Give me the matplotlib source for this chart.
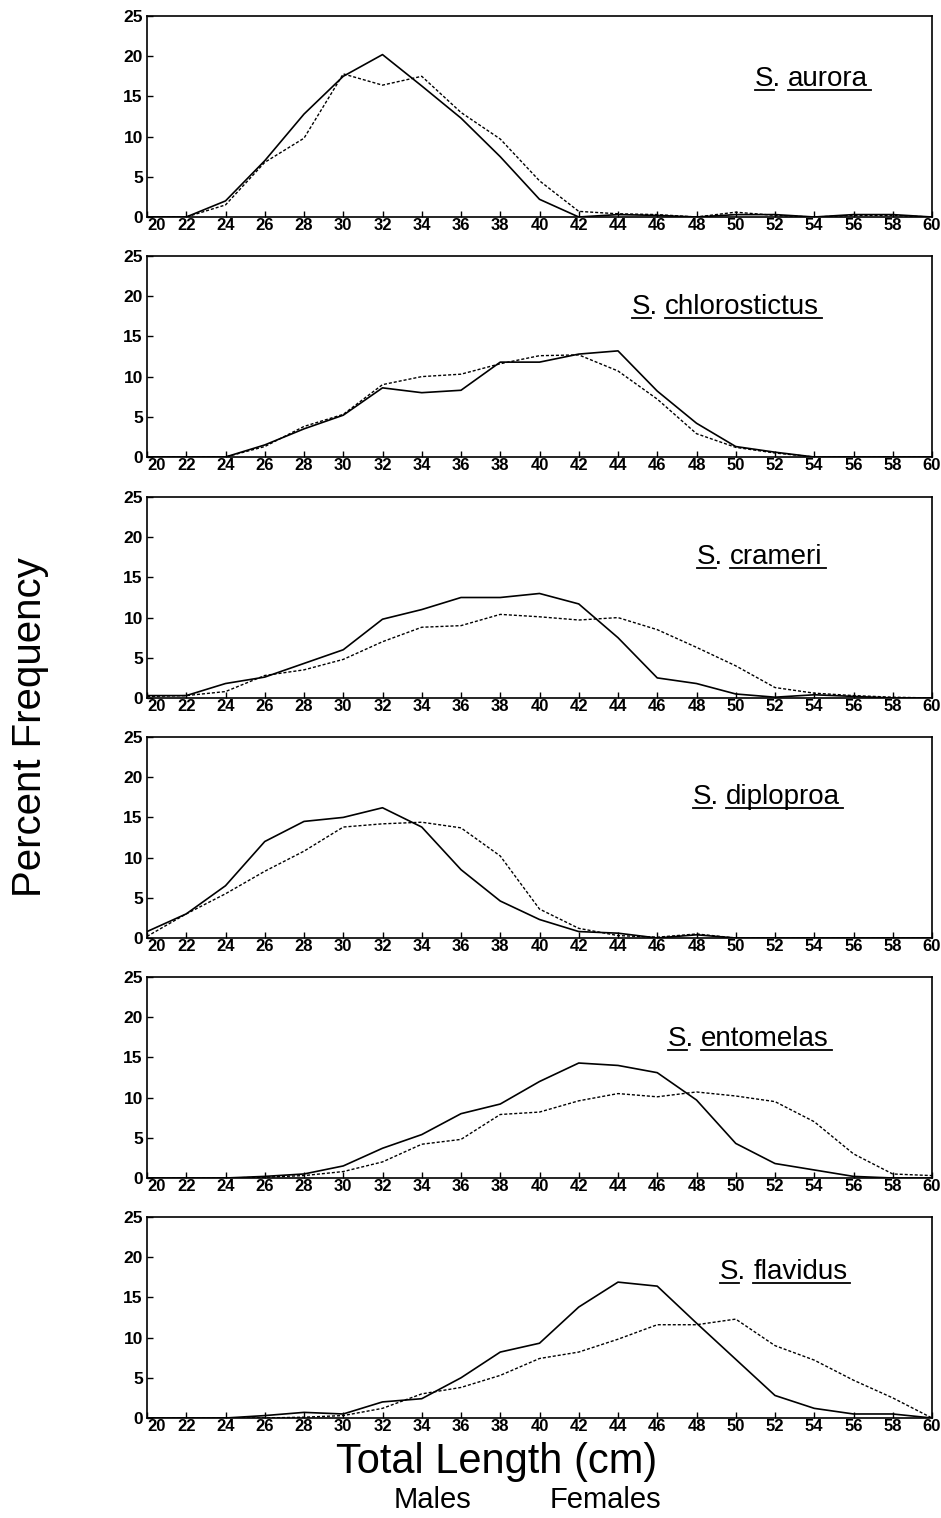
import matplotlib
matplotlib.use("Agg")
import matplotlib.pyplot as plt
from matplotlib.lines import Line2D
import numpy as np

plt.rcParams['font.family'] = ['Liberation Sans', 'DejaVu Sans']

# total length classes (cm)
lengths = np.arange(20, 61, 2)

species = ["aurora", "chlorostictus", "crameri", "diploproa", "entomelas", "flavidus"]

# percent frequency, males (solid) and females (dashed)
aurora_m = [0, 0, 2, 7, 12.8, 17.5, 20.2, 16.3, 12.3, 7.5, 2.2, 0, 0.3, 0.2, 0, 0.3, 0.3, 0, 0.3, 0.3, 0]
aurora_f = [0, 0, 1.5, 6.8, 9.8, 17.8, 16.4, 17.5, 13.0, 9.7, 4.5, 0.7, 0.4, 0.3, 0, 0.6, 0.2, 0, 0.2, 0.2, 0]

chloro_m = [0, 0, 0, 1.5, 3.5, 5.2, 8.6, 8.0, 8.3, 11.8, 11.8, 12.8, 13.2, 8.2, 4.2, 1.3, 0.6, 0, 0, 0, 0]
chloro_f = [0, 0, 0, 1.3, 3.8, 5.3, 9.0, 10.0, 10.3, 11.6, 12.6, 12.7, 10.7, 7.2, 2.9, 1.2, 0.5, 0, 0, 0, 0]

crameri_m = [0.3, 0.3, 1.8, 2.6, 4.3, 6.0, 9.8, 11.0, 12.5, 12.5, 13.0, 11.7, 7.5, 2.5, 1.8, 0.5, 0.1, 0.4, 0.2, 0, 0]
crameri_f = [0.2, 0.3, 0.8, 2.8, 3.5, 4.8, 7.0, 8.8, 9.0, 10.4, 10.1, 9.7, 10.0, 8.5, 6.3, 4.0, 1.3, 0.6, 0.3, 0.1, 0]

diplo_m = [0.8, 3.0, 6.5, 12.0, 14.5, 15.0, 16.2, 13.8, 8.5, 4.6, 2.3, 0.8, 0.6, 0, 0.4, 0, 0, 0, 0, 0, 0]
diplo_f = [0.2, 3.0, 5.5, 8.3, 10.8, 13.8, 14.2, 14.4, 13.7, 10.2, 3.6, 1.2, 0.3, 0.1, 0.5, 0, 0, 0, 0, 0, 0]

ento_m = [0, 0, 0, 0.2, 0.5, 1.5, 3.7, 5.4, 8.0, 9.2, 12.0, 14.3, 14.0, 13.1, 9.7, 4.3, 1.8, 1.0, 0.2, 0, 0]
ento_f = [0, 0, 0, 0.1, 0.3, 0.8, 2.0, 4.2, 4.8, 7.9, 8.2, 9.6, 10.5, 10.1, 10.7, 10.2, 9.5, 7.0, 3.0, 0.5, 0.3]

flav_m = [0, 0, 0, 0.3, 0.7, 0.5, 2.0, 2.4, 5.0, 8.2, 9.3, 13.8, 16.9, 16.4, 11.8, 7.3, 2.8, 1.2, 0.5, 0.5, 0]
flav_f = [0, 0, 0, 0, 0.1, 0.3, 1.2, 3.0, 3.8, 5.3, 7.4, 8.2, 9.8, 11.6, 11.6, 12.3, 9.0, 7.2, 4.7, 2.5, 0]

males = [aurora_m, chloro_m, crameri_m, diplo_m, ento_m, flav_m]
females = [aurora_f, chloro_f, crameri_f, diplo_f, ento_f, flav_f]

W, H = 941, 1518
fig = plt.figure(figsize=(W / 100, H / 100), dpi=100)

def px(x, y):
    return x / W, 1 - y / H

tops = [16, 256, 497, 737, 977, 1217]
lab_left = [755, 632, 697, 693, 668, 720]
lab_base = [86, 314, 564, 804, 1046, 1279]

for i in range(6):
    ax = fig.add_axes([147 / W, 1 - (tops[i] + 201) / H, 785 / W, 201 / H])
    ax.plot(lengths, males[i], color="black", lw=1.2)
    ax.plot(lengths, females[i], color="black", lw=1.0, ls=(0, (2.2, 1.4)))
    ax.set_xlim(20, 60)
    ax.set_ylim(0, 25)
    ax.set_xticks(lengths)
    ax.set_yticks([0, 5, 10, 15, 20, 25])
    ax.tick_params(direction="in", length=4, width=1, pad=1, labelsize=12)
    ax.tick_params(axis="y", pad=3, labelsize=12.5)
    for lab in ax.get_xticklabels() + ax.get_yticklabels():
        lab.set_fontweight("bold")
    # first x label sits just right of the "0", as in the original
    ax.get_xticklabels()[0].set_horizontalalignment("left")
    for s in ax.spines.values():
        s.set_linewidth(1.2)

fig.canvas.draw()
r = fig.canvas.get_renderer()
for i in range(6):
    x0, y0 = px(lab_left[i], lab_base[i])
    t1 = fig.text(x0, y0, "S.", fontsize=20, va="baseline", ha="left")
    bb1 = t1.get_window_extent(r)
    t2 = fig.text((bb1.x1 + 7) / W, y0, species[i], fontsize=20, va="baseline", ha="left")
    bb2 = t2.get_window_extent(r)
    uy = y0 - 4 / H
    fig.add_artist(Line2D([bb1.x0 / W, (bb1.x0 + 0.72 * bb1.width) / W], [uy, uy],
                          transform=fig.transFigure, color="black", lw=1.3))
    fig.add_artist(Line2D([bb2.x0 / W, (bb2.x1 + 3) / W], [uy, uy],
                          transform=fig.transFigure, color="black", lw=1.3))

fig.text(*px(30, 727), "Percent Frequency", rotation=90, fontsize=29, ha="center", va="center")
fig.text(*px(497, 1462), "Total Length (cm)", fontsize=30, ha="center", va="center")
fig.text(*px(432, 1500), "Males", fontsize=21, ha="center", va="center")
fig.text(*px(605, 1500), "Females", fontsize=21, ha="center", va="center")

fig.savefig("out.png", dpi=100)
